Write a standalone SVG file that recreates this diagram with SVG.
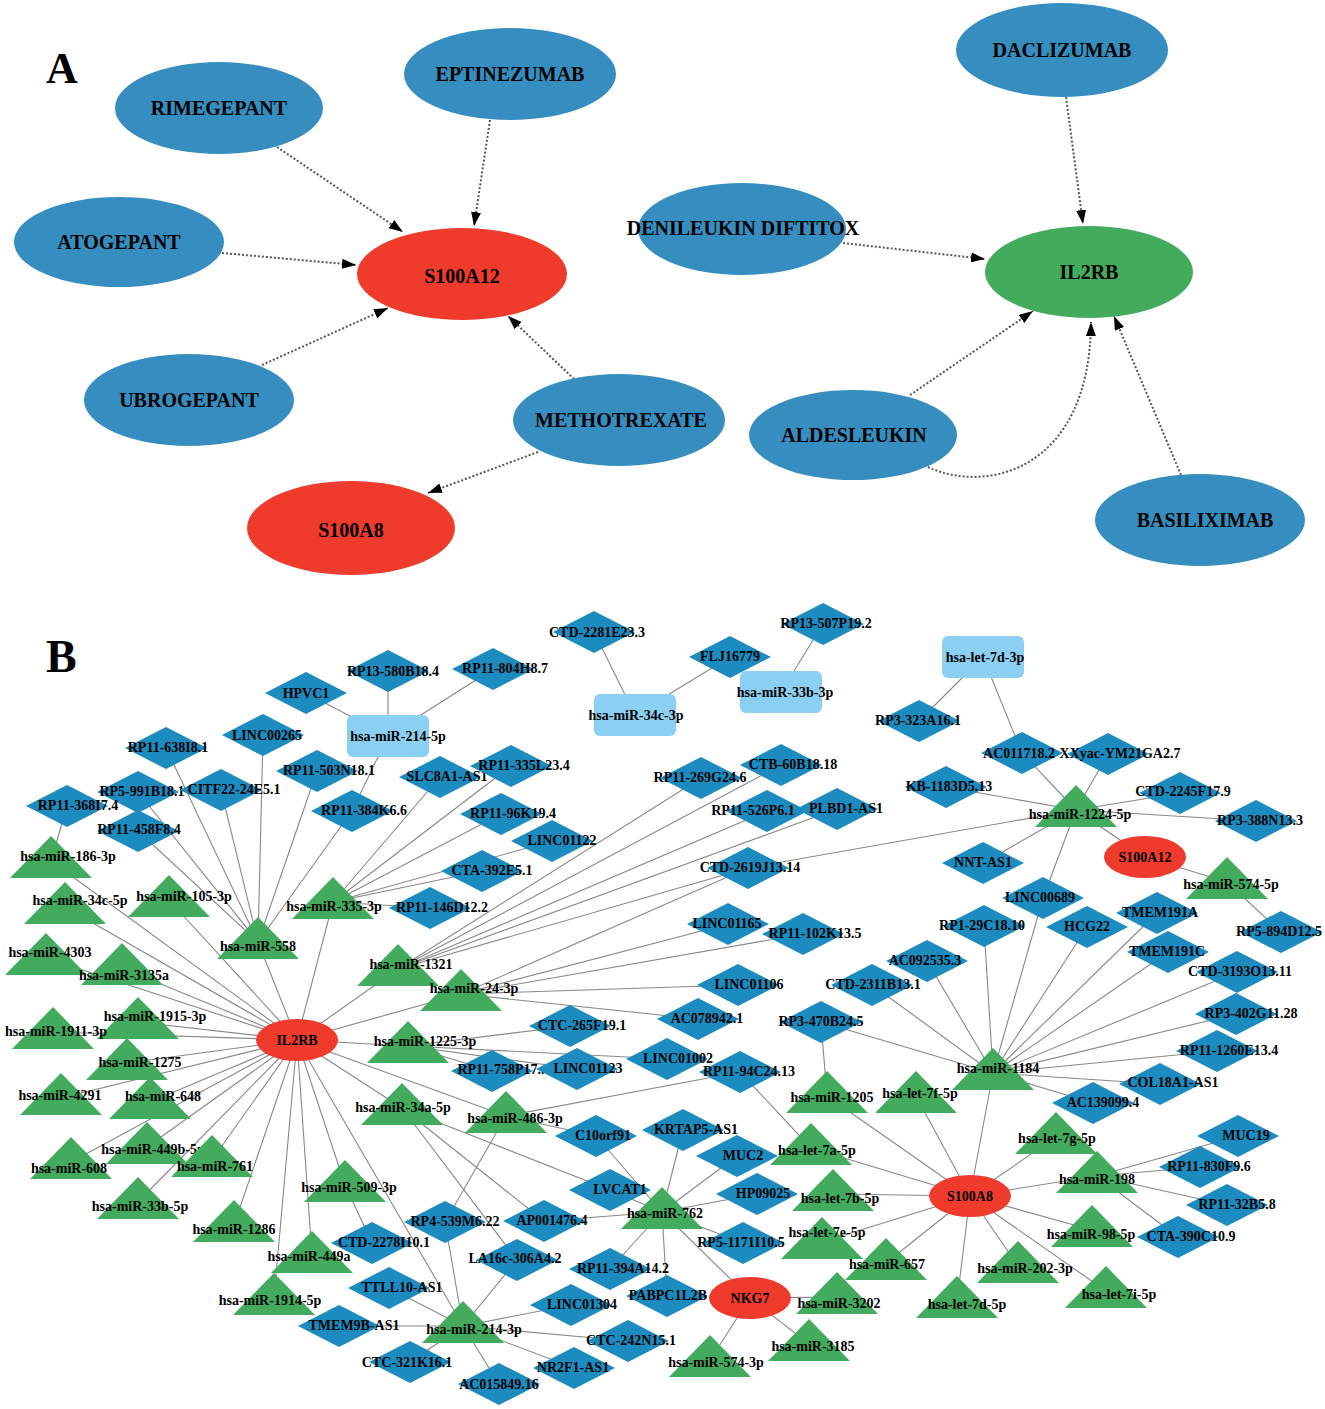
<svg xmlns="http://www.w3.org/2000/svg" xmlns:xlink="http://www.w3.org/1999/xlink" width="1325" height="1409" viewBox="0 0 1325 1409">
<style>
.bg{fill:#ffffff}
.pl{font-family:"Liberation Serif","Times New Roman",serif;font-weight:bold;fill:#000}
.la{font-family:"Liberation Serif","Times New Roman",serif;font-weight:bold;font-size:20px;text-anchor:middle;fill:#000}
.lb{font-family:"Liberation Serif","Times New Roman",serif;font-weight:bold;font-size:14px;text-anchor:middle;fill:#000}
.eA{fill:none;stroke:#555;stroke-width:2;stroke-dasharray:2 2;marker-end:url(#arr)}
.eB{fill:none;stroke:#888;stroke-width:1.1}
.drug{fill:#368ec0}
.red{fill:#ee3b2c}
.grn{fill:#42ac5c}
.dia{fill:#1c8cc0}
.tri{fill:#42ab5d}
.rr{fill:#8bd0f3}
</style>
<defs>
<marker id="arr" markerUnits="userSpaceOnUse" markerWidth="15" markerHeight="11" refX="14" refY="5" orient="auto"><path d="M0,0 L14,5 L0,10 Z" fill="#000"/></marker>
<polygon id="dia" class="dia" points="-41,0 0,-21 41,0 0,21"/>
<polygon id="tri" class="tri" points="0,0 41,42 -41,42"/>
<rect id="rr" class="rr" x="-41" y="-21" width="82" height="42" rx="6"/>
<ellipse id="ell" class="red" rx="41" ry="21"/>
</defs>
<rect class="bg" x="0" y="0" width="1325" height="1409"/>

<text class="pl" x="46" y="83" font-size="44">A</text>
<text class="pl" x="46" y="672" font-size="46">B</text>

<g id="edges-A">
<path class="eA" d="M277,147 L403,232"/>
<path class="eA" d="M490,120 L474,226"/>
<path class="eA" d="M222,253 L356,265"/>
<path class="eA" d="M262,365 L388,308"/>
<path class="eA" d="M574,379 L508,316"/>
<path class="eA" d="M538,452 L428,493"/>
<path class="eA" d="M1066,97 L1083,224"/>
<path class="eA" d="M843,243 L985,259"/>
<path class="eA" d="M910,395 L1033,311"/>
<path class="eA" d="M928,467 C985,494 1090,472 1091,322"/>
<path class="eA" d="M1181,475 L1114,316"/>
</g>

<g id="A-RIMEGEPANT"><ellipse class="drug" cx="219" cy="108" rx="104" ry="46"/><text class="la" x="219" y="115">RIMEGEPANT</text></g>
<g id="A-EPTINEZUMAB"><ellipse class="drug" cx="510" cy="74" rx="106" ry="46"/><text class="la" x="510" y="81">EPTINEZUMAB</text></g>
<g id="A-ATOGEPANT"><ellipse class="drug" cx="119" cy="242" rx="105" ry="45"/><text class="la" x="119" y="249">ATOGEPANT</text></g>
<g id="A-S100A12"><ellipse class="red" cx="462" cy="274" rx="105" ry="46"/><text class="la" x="462" y="283" font-size="25">S100A12</text></g>
<g id="A-UBROGEPANT"><ellipse class="drug" cx="189" cy="400" rx="105" ry="46"/><text class="la" x="189" y="407">UBROGEPANT</text></g>
<g id="A-METHOTREXATE"><ellipse class="drug" cx="619" cy="420" rx="106" ry="46"/><text class="la" x="621" y="427">METHOTREXATE</text></g>
<g id="A-S100A8"><ellipse class="red" cx="351" cy="528" rx="104" ry="47"/><text class="la" x="351" y="537" font-size="25">S100A8</text></g>
<g id="A-DACLIZUMAB"><ellipse class="drug" cx="1062" cy="50" rx="106" ry="47"/><text class="la" x="1062" y="57">DACLIZUMAB</text></g>
<g id="A-DENILEUKIN"><ellipse class="drug" cx="742" cy="229" rx="104" ry="46"/><text class="la" x="743" y="235">DENILEUKIN DIFTITOX</text></g>
<g id="A-IL2RB"><ellipse class="grn" cx="1089" cy="272" rx="104" ry="46"/><text class="la" x="1089" y="279">IL2RB</text></g>
<g id="A-ALDESLEUKIN"><ellipse class="drug" cx="853" cy="435" rx="104" ry="45"/><text class="la" x="854" y="442">ALDESLEUKIN</text></g>
<g id="A-BASILIXIMAB"><ellipse class="drug" cx="1200" cy="520" rx="105" ry="46"/><text class="la" x="1205" y="527">BASILIXIMAB</text></g>

<g id="edges-B">
<path class="eB" d="M297,1040L51,861M297,1040L65,907M297,1040L169,900M297,1040L333,902M297,1040L258,942M297,1040L46,958M297,1040L122,968M297,1040L398,969M297,1040L461,994M297,1040L138,1022M297,1040L53,1032M297,1040L408,1046M297,1040L127,1063M297,1040L61,1098M297,1040L150,1102M297,1040L402,1108M297,1040L147,1147M297,1040L71,1162M297,1040L212,1160M297,1040L138,1202M297,1040L345,1185M297,1040L234,1225M297,1040L312,1256M297,1040L274,1298M297,1040L463,1326M297,1040L506,1116"/>
<path class="eB" d="M258,942L138,831M258,942L138,792M258,942L221,790M258,942L166,748M258,942L263,735M258,942L317,771M258,942L352,811M51,861L67,806"/>
<path class="eB" d="M388,736L306,693M388,736L388,671M388,736L493,669M388,736L352,811M635,715L594,632M635,715L730,657M781,692L823,624M983,657L919,721M983,657L1022,753"/>
<path class="eB" d="M333,902L440,777M333,902L511,766M333,902L501,814M333,902L552,841M333,902L482,871M333,902L430,908"/>
<path class="eB" d="M398,969L701,778M398,969L781,765M398,969L767,811M398,969L837,809M398,969L748,868"/>
<path class="eB" d="M1076,810L1022,753M1076,810L1108,754M1076,810L946,787M1076,810L1180,793M1076,810L1256,821M1076,810L1145,857M1076,810L983,863M1076,810L748,868M1076,810L1043,898M1227,882L1145,857M1227,882L1281,932"/>
<path class="eB" d="M461,994L728,924M461,994L803,934M461,994L738,985M461,994L698,1019M461,994L748,868"/>
<path class="eB" d="M408,1046L570,1026M408,1046L667,1059M408,1046L577,1069M408,1046L492,1071M506,1116L740,1072M506,1116L596,1136M506,1116L445,1222M402,1108L610,1190M402,1108L544,1221M402,1108L517,1260"/>
<path class="eB" d="M662,1212L683,1130M662,1212L596,1136M662,1212L737,1156M662,1212L757,1194M662,1212L544,1221M662,1212L610,1269M662,1212L667,1296M662,1212L743,1243M662,1212L750,1298M662,1212L610,1190"/>
<path class="eB" d="M463,1326L445,1222M463,1326L517,1260M463,1326L389,1288M463,1326L339,1326M463,1326L410,1362M463,1326L499,1384M463,1326L574,1368M463,1326L628,1341M463,1326L571,1305M345,1185L372,1243"/>
<path class="eB" d="M750,1298L837,1297M750,1298L809,1344M750,1298L710,1360"/>
<path class="eB" d="M970,1196L827,1096M970,1196L916,1096M970,1196L993,1073M970,1196L1056,1137M970,1196L1097,1176M970,1196L1092,1230M970,1196L1106,1291M970,1196L1018,1266M970,1196L957,1301M970,1196L886,1263M970,1196L822,1242M970,1196L833,1194M970,1196L811,1148M827,1096L821,1022M811,1148L740,1072"/>
<path class="eB" d="M993,1073L872,985M993,1073L927,961M993,1073L984,926M993,1073L1043,898M993,1073L1087,927M993,1073L1157,913M993,1073L1168,952M993,1073L1237,972M993,1073L1236,1014M993,1073L1217,1051M993,1073L1160,1084M993,1073L1093,1103M993,1073L821,1022"/>
<path class="eB" d="M1097,1176L1238,1136M1097,1176L1200,1167M1097,1176L1227,1205M1097,1176L1178,1237"/>
</g>

<g id="B-rects">
<g id="r-miR-214-5p"><use href="#rr" x="388" y="736"/><text class="lb" x="398" y="741">hsa-miR-214-5p</text></g>
<g id="r-miR-34c-3p"><use href="#rr" x="635" y="715"/><text class="lb" x="636" y="720">hsa-miR-34c-3p</text></g>
<g id="r-miR-33b-3p"><use href="#rr" x="781" y="692"/><text class="lb" x="785" y="697">hsa-miR-33b-3p</text></g>
<g id="r-let-7d-3p"><use href="#rr" x="983" y="657"/><text class="lb" x="985" y="662">hsa-let-7d-3p</text></g>
</g>

<g id="B-diamonds">
<g id="d1"><use href="#dia" x="306" y="693"/><text class="lb" x="306" y="698">HPVC1</text></g>
<g id="d2"><use href="#dia" x="388" y="671"/><text class="lb" x="393" y="676">RP13-580B18.4</text></g>
<g id="d3"><use href="#dia" x="263" y="735"/><text class="lb" x="267" y="740">LINC00265</text></g>
<g id="d4"><use href="#dia" x="166" y="748"/><text class="lb" x="168" y="752">RP11-638I8.1</text></g>
<g id="d5"><use href="#dia" x="317" y="771"/><text class="lb" x="329" y="775">RP11-503N18.1</text></g>
<g id="d6"><use href="#dia" x="440" y="777"/><text class="lb" x="447" y="781">SLC8A1-AS1</text></g>
<g id="d7"><use href="#dia" x="138" y="792"/><text class="lb" x="142" y="796">RP5-991B18.1</text></g>
<g id="d8"><use href="#dia" x="221" y="790"/><text class="lb" x="234" y="794">CITF22-24E5.1</text></g>
<g id="d9"><use href="#dia" x="67" y="806"/><text class="lb" x="78" y="810">RP11-368I7.4</text></g>
<g id="d10"><use href="#dia" x="138" y="831"/><text class="lb" x="139" y="834">RP11-458F8.4</text></g>
<g id="d11"><use href="#dia" x="352" y="811"/><text class="lb" x="364" y="815">RP11-384K6.6</text></g>
<g id="d12"><use href="#dia" x="594" y="632"/><text class="lb" x="597" y="637">CTD-2281E23.3</text></g>
<g id="d13"><use href="#dia" x="493" y="669"/><text class="lb" x="505" y="673">RP11-804H8.7</text></g>
<g id="d14"><use href="#dia" x="730" y="657"/><text class="lb" x="730" y="661">FLJ16779</text></g>
<g id="d15"><use href="#dia" x="823" y="624"/><text class="lb" x="826" y="628">RP13-507P19.2</text></g>
<g id="d16"><use href="#dia" x="511" y="766"/><text class="lb" x="524" y="770">RP11-335L23.4</text></g>
<g id="d17"><use href="#dia" x="701" y="778"/><text class="lb" x="700" y="782">RP11-269G24.6</text></g>
<g id="d18"><use href="#dia" x="781" y="765"/><text class="lb" x="793" y="769">CTB-60B18.18</text></g>
<g id="d19"><use href="#dia" x="501" y="814"/><text class="lb" x="513" y="818">RP11-96K19.4</text></g>
<g id="d20"><use href="#dia" x="552" y="841"/><text class="lb" x="562" y="845">LINC01122</text></g>
<g id="d21"><use href="#dia" x="767" y="811"/><text class="lb" x="753" y="815">RP11-526P6.1</text></g>
<g id="d22"><use href="#dia" x="837" y="809"/><text class="lb" x="846" y="813">PLBD1-AS1</text></g>
<g id="d23"><use href="#dia" x="482" y="871"/><text class="lb" x="492" y="875">CTA-392E5.1</text></g>
<g id="d24"><use href="#dia" x="748" y="868"/><text class="lb" x="750" y="872">CTD-2619J13.14</text></g>
<g id="d25"><use href="#dia" x="919" y="721"/><text class="lb" x="918" y="725">RP3-323A16.1</text></g>
<g id="d26"><use href="#dia" x="1022" y="753"/><text class="lb" x="1019" y="758">AC011718.2</text></g>
<g id="d27"><use href="#dia" x="1108" y="754"/><text class="lb" x="1120" y="758">XXyac-YM21GA2.7</text></g>
<g id="d28"><use href="#dia" x="946" y="787"/><text class="lb" x="949" y="791">KB-1183D5.13</text></g>
<g id="d29"><use href="#dia" x="1180" y="793"/><text class="lb" x="1183" y="796">CTD-2245F17.9</text></g>
<g id="d30"><use href="#dia" x="1256" y="821"/><text class="lb" x="1260" y="825">RP3-388N13.3</text></g>
<g id="d31"><use href="#dia" x="983" y="863"/><text class="lb" x="983" y="867">NNT-AS1</text></g>
<g id="d32"><use href="#dia" x="430" y="908"/><text class="lb" x="442" y="912">RP11-146D12.2</text></g>
<g id="d33"><use href="#dia" x="1043" y="898"/><text class="lb" x="1040" y="902">LINC00689</text></g>
<g id="d34"><use href="#dia" x="984" y="926"/><text class="lb" x="982" y="930">RP1-29C18.10</text></g>
<g id="d35"><use href="#dia" x="1087" y="927"/><text class="lb" x="1087" y="931">HCG22</text></g>
<g id="d36"><use href="#dia" x="1157" y="913"/><text class="lb" x="1160" y="917">TMEM191A</text></g>
<g id="d37"><use href="#dia" x="1168" y="952"/><text class="lb" x="1167" y="956">TMEM191C</text></g>
<g id="d38"><use href="#dia" x="1281" y="932"/><text class="lb" x="1279" y="936">RP5-894D12.5</text></g>
<g id="d39"><use href="#dia" x="927" y="961"/><text class="lb" x="925" y="965">AC092535.3</text></g>
<g id="d40"><use href="#dia" x="1237" y="972"/><text class="lb" x="1240" y="976">CTD-3193O13.11</text></g>
<g id="d41"><use href="#dia" x="1236" y="1014"/><text class="lb" x="1251" y="1018">RP3-402G11.28</text></g>
<g id="d42"><use href="#dia" x="1217" y="1051"/><text class="lb" x="1229" y="1055">RP11-1260E13.4</text></g>
<g id="d43"><use href="#dia" x="1160" y="1084"/><text class="lb" x="1173" y="1087">COL18A1-AS1</text></g>
<g id="d44"><use href="#dia" x="1093" y="1103"/><text class="lb" x="1103" y="1107">AC139099.4</text></g>
<g id="d45"><use href="#dia" x="1238" y="1136"/><text class="lb" x="1246" y="1140">MUC19</text></g>
<g id="d46"><use href="#dia" x="728" y="924"/><text class="lb" x="727" y="928">LINC01165</text></g>
<g id="d47"><use href="#dia" x="803" y="934"/><text class="lb" x="815" y="938">RP11-102K13.5</text></g>
<g id="d48"><use href="#dia" x="738" y="985"/><text class="lb" x="749" y="989">LINC01106</text></g>
<g id="d49"><use href="#dia" x="872" y="985"/><text class="lb" x="873" y="989">CTD-2311B13.1</text></g>
<g id="d50"><use href="#dia" x="698" y="1019"/><text class="lb" x="707" y="1023">AC078942.1</text></g>
<g id="d51"><use href="#dia" x="821" y="1022"/><text class="lb" x="821" y="1026">RP3-470B24.5</text></g>
<g id="d52"><use href="#dia" x="570" y="1026"/><text class="lb" x="582" y="1030">CTC-265F19.1</text></g>
<g id="d53"><use href="#dia" x="667" y="1059"/><text class="lb" x="678" y="1063">LINC01002</text></g>
<g id="d54"><use href="#dia" x="492" y="1071"/><text class="lb" x="501" y="1074">RP11-758P17..</text></g>
<g id="d55"><use href="#dia" x="577" y="1069"/><text class="lb" x="588" y="1073">LINC01123</text></g>
<g id="d56"><use href="#dia" x="740" y="1072"/><text class="lb" x="749" y="1076">RP11-94C24.13</text></g>
<g id="d57"><use href="#dia" x="596" y="1136"/><text class="lb" x="603" y="1140">C10orf91</text></g>
<g id="d58"><use href="#dia" x="683" y="1130"/><text class="lb" x="696" y="1134">KRTAP5-AS1</text></g>
<g id="d59"><use href="#dia" x="737" y="1156"/><text class="lb" x="743" y="1160">MUC2</text></g>
<g id="d60"><use href="#dia" x="610" y="1190"/><text class="lb" x="620" y="1194">LVCAT1</text></g>
<g id="d61"><use href="#dia" x="757" y="1194"/><text class="lb" x="763" y="1198">HP09025</text></g>
<g id="d62"><use href="#dia" x="544" y="1221"/><text class="lb" x="552" y="1225">AP001476.4</text></g>
<g id="d63"><use href="#dia" x="445" y="1222"/><text class="lb" x="455" y="1226">RP4-539M6.22</text></g>
<g id="d64"><use href="#dia" x="372" y="1243"/><text class="lb" x="384" y="1247">CTD-2278I10.1</text></g>
<g id="d65"><use href="#dia" x="517" y="1260"/><text class="lb" x="515" y="1263">LA16c-306A4.2</text></g>
<g id="d66"><use href="#dia" x="743" y="1243"/><text class="lb" x="741" y="1247">RP5-1171I10.5</text></g>
<g id="d67"><use href="#dia" x="610" y="1269"/><text class="lb" x="623" y="1273">RP11-394A14.2</text></g>
<g id="d68"><use href="#dia" x="389" y="1288"/><text class="lb" x="402" y="1292">TTLL10-AS1</text></g>
<g id="d69"><use href="#dia" x="571" y="1305"/><text class="lb" x="582" y="1309">LINC01304</text></g>
<g id="d70"><use href="#dia" x="667" y="1296"/><text class="lb" x="668" y="1300">PABPC1L2B</text></g>
<g id="d71"><use href="#dia" x="339" y="1326"/><text class="lb" x="354" y="1330">TMEM9B-AS1</text></g>
<g id="d72"><use href="#dia" x="628" y="1341"/><text class="lb" x="631" y="1345">CTC-242N15.1</text></g>
<g id="d73"><use href="#dia" x="410" y="1362"/><text class="lb" x="407" y="1367">CTC-321K16.1</text></g>
<g id="d74"><use href="#dia" x="574" y="1368"/><text class="lb" x="573" y="1372">NR2F1-AS1</text></g>
<g id="d75"><use href="#dia" x="499" y="1384"/><text class="lb" x="499" y="1389">AC015849.16</text></g>
<g id="d76"><use href="#dia" x="1200" y="1167"/><text class="lb" x="1209" y="1171">RP11-830F9.6</text></g>
<g id="d77"><use href="#dia" x="1227" y="1205"/><text class="lb" x="1237" y="1209">RP11-32B5.8</text></g>
<g id="d78"><use href="#dia" x="1178" y="1237"/><text class="lb" x="1191" y="1241">CTA-390C10.9</text></g>
</g>

<g id="B-triangles">
<g id="t1"><use href="#tri" x="51" y="836"/><text class="lb" x="68" y="861">hsa-miR-186-3p</text></g>
<g id="t2"><use href="#tri" x="65" y="882"/><text class="lb" x="80" y="905">hsa-miR-34c-5p</text></g>
<g id="t3"><use href="#tri" x="169" y="875"/><text class="lb" x="184" y="901">hsa-miR-105-3p</text></g>
<g id="t4"><use href="#tri" x="333" y="877"/><text class="lb" x="334" y="911">hsa-miR-335-3p</text></g>
<g id="t5"><use href="#tri" x="258" y="917"/><text class="lb" x="258" y="951">hsa-miR-558</text></g>
<g id="t6"><use href="#tri" x="46" y="933"/><text class="lb" x="50" y="957">hsa-miR-4303</text></g>
<g id="t7"><use href="#tri" x="122" y="943"/><text class="lb" x="124" y="980">hsa-miR-3135a</text></g>
<g id="t8"><use href="#tri" x="398" y="944"/><text class="lb" x="411" y="969">hsa-miR-1321</text></g>
<g id="t9"><use href="#tri" x="461" y="969"/><text class="lb" x="474" y="993">hsa-miR-24-3p</text></g>
<g id="t10"><use href="#tri" x="138" y="997"/><text class="lb" x="155" y="1021">hsa-miR-1915-3p</text></g>
<g id="t11"><use href="#tri" x="53" y="1007"/><text class="lb" x="56" y="1036">hsa-miR-1911-3p</text></g>
<g id="t12"><use href="#tri" x="408" y="1021"/><text class="lb" x="425" y="1046">hsa-miR-1225-3p</text></g>
<g id="t13"><use href="#tri" x="127" y="1038"/><text class="lb" x="140" y="1067">hsa-miR-1275</text></g>
<g id="t14"><use href="#tri" x="61" y="1073"/><text class="lb" x="60" y="1100">hsa-miR-4291</text></g>
<g id="t15"><use href="#tri" x="150" y="1077"/><text class="lb" x="163" y="1101">hsa-miR-648</text></g>
<g id="t16"><use href="#tri" x="402" y="1083"/><text class="lb" x="403" y="1112">hsa-miR-34a-5p</text></g>
<g id="t17"><use href="#tri" x="147" y="1122"/><text class="lb" x="153" y="1154">hsa-miR-449b-5p</text></g>
<g id="t18"><use href="#tri" x="71" y="1137"/><text class="lb" x="69" y="1173">hsa-miR-608</text></g>
<g id="t19"><use href="#tri" x="212" y="1135"/><text class="lb" x="215" y="1171">hsa-miR-761</text></g>
<g id="t20"><use href="#tri" x="138" y="1177"/><text class="lb" x="140" y="1211">hsa-miR-33b-5p</text></g>
<g id="t21"><use href="#tri" x="345" y="1160"/><text class="lb" x="349" y="1192">hsa-miR-509-3p</text></g>
<g id="t22"><use href="#tri" x="234" y="1200"/><text class="lb" x="234" y="1234">hsa-miR-1286</text></g>
<g id="t23"><use href="#tri" x="312" y="1231"/><text class="lb" x="309" y="1261">hsa-miR-449a</text></g>
<g id="t24"><use href="#tri" x="274" y="1273"/><text class="lb" x="270" y="1305">hsa-miR-1914-5p</text></g>
<g id="t25"><use href="#tri" x="463" y="1301"/><text class="lb" x="474" y="1334">hsa-miR-214-3p</text></g>
<g id="t26"><use href="#tri" x="1076" y="785"/><text class="lb" x="1080" y="819">hsa-miR-1224-5p</text></g>
<g id="t27"><use href="#tri" x="1227" y="857"/><text class="lb" x="1231" y="889">hsa-miR-574-5p</text></g>
<g id="t28"><use href="#tri" x="993" y="1048"/><text class="lb" x="998" y="1073">hsa-miR-1184</text></g>
<g id="t29"><use href="#tri" x="916" y="1071"/><text class="lb" x="920" y="1098">hsa-let-7f-5p</text></g>
<g id="t30"><use href="#tri" x="1056" y="1112"/><text class="lb" x="1057" y="1143">hsa-let-7g-5p</text></g>
<g id="t31"><use href="#tri" x="827" y="1071"/><text class="lb" x="832" y="1102">hsa-miR-1205</text></g>
<g id="t32"><use href="#tri" x="506" y="1091"/><text class="lb" x="515" y="1123">hsa-miR-486-3p</text></g>
<g id="t33"><use href="#tri" x="811" y="1123"/><text class="lb" x="817" y="1155">hsa-let-7a-5p</text></g>
<g id="t34"><use href="#tri" x="833" y="1169"/><text class="lb" x="840" y="1203">hsa-let-7b-5p</text></g>
<g id="t35"><use href="#tri" x="662" y="1187"/><text class="lb" x="665" y="1218">hsa-miR-762</text></g>
<g id="t36"><use href="#tri" x="822" y="1217"/><text class="lb" x="827" y="1237">hsa-let-7e-5p</text></g>
<g id="t37"><use href="#tri" x="1097" y="1151"/><text class="lb" x="1097" y="1184">hsa-miR-198</text></g>
<g id="t38"><use href="#tri" x="1092" y="1205"/><text class="lb" x="1091" y="1239">hsa-miR-98-5p</text></g>
<g id="t39"><use href="#tri" x="886" y="1238"/><text class="lb" x="887" y="1269">hsa-miR-657</text></g>
<g id="t40"><use href="#tri" x="1018" y="1241"/><text class="lb" x="1025" y="1273">hsa-miR-202-3p</text></g>
<g id="t41"><use href="#tri" x="957" y="1276"/><text class="lb" x="967" y="1309">hsa-let-7d-5p</text></g>
<g id="t42"><use href="#tri" x="1106" y="1266"/><text class="lb" x="1119" y="1299">hsa-let-7i-5p</text></g>
<g id="t43"><use href="#tri" x="837" y="1272"/><text class="lb" x="839" y="1308">hsa-miR-3202</text></g>
<g id="t44"><use href="#tri" x="809" y="1319"/><text class="lb" x="813" y="1351">hsa-miR-3185</text></g>
<g id="t45"><use href="#tri" x="710" y="1335"/><text class="lb" x="716" y="1367">hsa-miR-574-3p</text></g>
</g>

<g id="B-mRNA">
<g id="e-IL2RB"><use href="#ell" x="297" y="1040"/><text class="lb" x="297" y="1045">IL2RB</text></g>
<g id="e-S100A12"><use href="#ell" x="1145" y="857"/><text class="lb" x="1145" y="862">S100A12</text></g>
<g id="e-S100A8"><use href="#ell" x="970" y="1196"/><text class="lb" x="970" y="1201">S100A8</text></g>
<g id="e-NKG7"><use href="#ell" x="750" y="1298"/><text class="lb" x="750" y="1303">NKG7</text></g>
</g>
</svg>
